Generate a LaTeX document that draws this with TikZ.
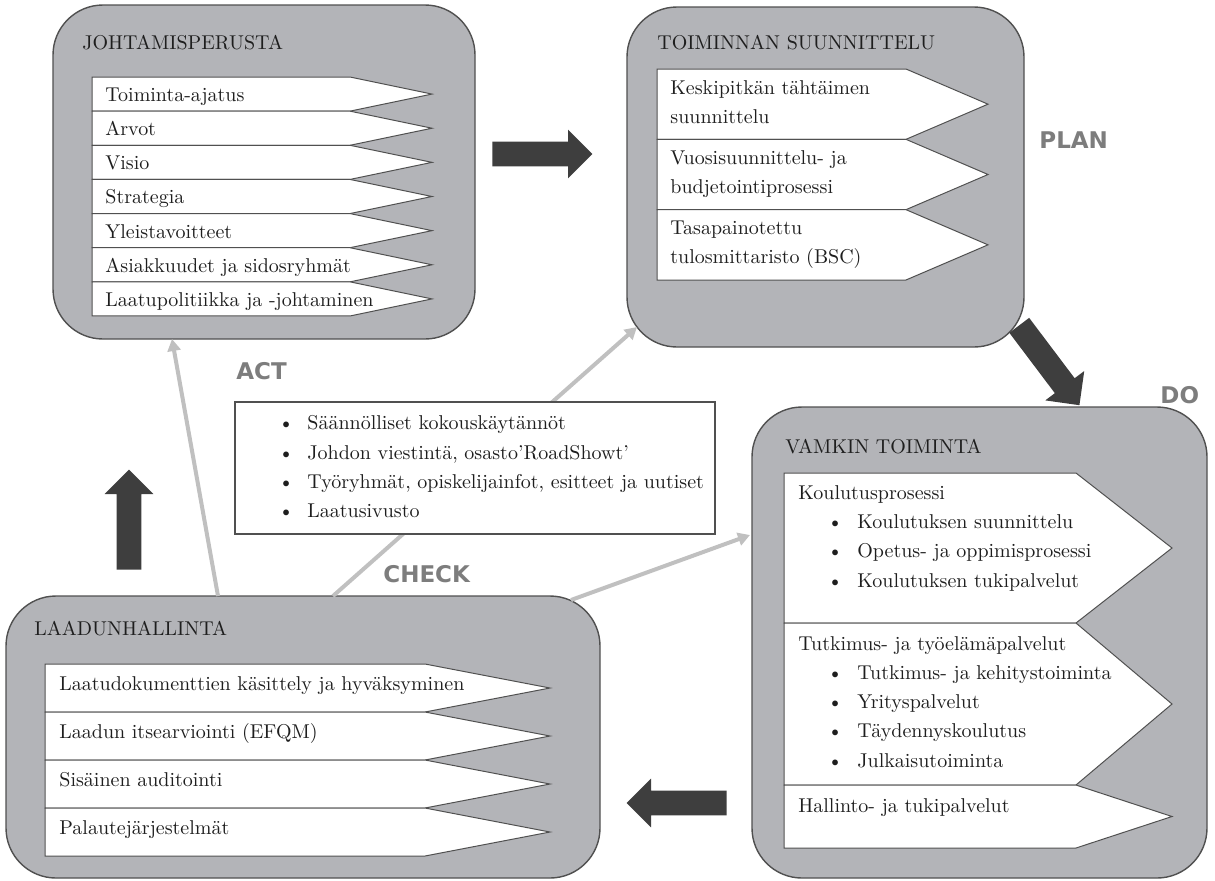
\documentclass[tikz,border=0pt]{standalone}
\usepackage{fontspec}
\newfontfamily\pdcafont{DejaVu Sans}
\usetikzlibrary{fit,calc,shapes.arrows,arrows.meta}

\definecolor{panelgray}{RGB}{179,180,184}
\definecolor{edgegray}{RGB}{80,80,80}
\definecolor{linkgray}{RGB}{192,192,192}
\definecolor{arrowgray}{RGB}{62,62,62}
\definecolor{labelgray}{RGB}{125,125,125}
\definecolor{inkblack}{RGB}{30,30,30}

\tikzset{
  panel/.style={draw=edgegray, line width=0.7pt, fill=panelgray, rounded corners=25pt, inner sep=0pt, outer sep=0pt},
  tabbox/.style={draw=edgegray, line width=0.5pt, fill=white},
  infobox/.style={draw=edgegray, line width=0.6pt, fill=white, inner sep=0pt, outer sep=0pt},
  txt/.style={anchor=base west, inner sep=0pt, text=inkblack, font=\fontsize{10}{12}\selectfont},
  pdca/.style={anchor=base west, inner sep=0pt, text=labelgray, font=\pdcafont\bfseries\fontsize{11.5}{12}\selectfont},
  link/.style={draw=linkgray, line width=2pt, -{Triangle[length=6pt,width=6.5pt]}},
  bigarrow/.style={single arrow, draw=none, fill=arrowgray, anchor=tail, minimum height=50pt, inner xsep=0pt, inner ysep=6pt, single arrow head extend=6pt}
}

\begin{document}
\begin{tikzpicture}[x=0.5pt,y=-0.5pt]
\useasboundingbox (0,0) rectangle (1215,880);
% rounded blocks
\node[panel, fit={(53,5) (475,339)}] (lead) {};
\node[panel, fit={(627,7) (1024,347)}] (plan) {};
\node[panel, fit={(752,407) (1207,878)}] (do) {};
\node[panel, fit={(6,596) (600,878)}] (check) {};
\foreach \n/\x/\y/\t in {leadtitle/82/49/JOHTAMISPERUSTA, plantitle/657/49/TOIMINNAN SUUNNITTELU,
  dotitle/785/453/VAMKIN TOIMINTA, checktitle/34/635/LAADUNHALLINTA}
  \node[txt] (\n) at (\x,\y) {\t};

% JOHTAMISPERUSTA
\foreach \t [count=\i] in {Toiminta-ajatus, Arvot, Visio, Strategia, Yleistavoitteet,
  Asiakkuudet ja sidosryhmät, Laatupolitiikka ja -johtaminen}{
  \pgfmathsetmacro\ry{77+34.14*(\i-1)}
  \draw[tabbox] (92,\ry) -- (350,\ry) -- (432,\ry+17.07) -- (350,\ry+34.14) -- (92,\ry+34.14) -- cycle;
  \node[txt] (lead\i) at (105,\ry+24.5) {\t};
}

% TOIMINNAN SUUNNITTELU
\foreach \a/\b [count=\i] in {Keskipitkän tähtäimen/suunnittelu, Vuosisuunnittelu- ja/budjetointiprosessi,
  Tasapainotettu/tulosmittaristo (BSC)}{
  \pgfmathsetmacro\ry{69+70.33*(\i-1)}
  \draw[tabbox] (657,\ry) -- (906,\ry) -- (988,\ry+35.17) -- (906,\ry+70.33) -- (657,\ry+70.33) -- cycle;
  \node[txt] (plan\i-1) at (670,\ry+25) {\a};
  \node[txt] (plan\i-2) at (670,\ry+54) {\b};
}

% LAADUNHALLINTA
\foreach \t [count=\i] in {Laatudokumenttien käsittely ja hyväksyminen, Laadun itsearviointi (EFQM),
  Sisäinen auditointi, Palautejärjestelmät}{
  \pgfmathsetmacro\ry{664+48*(\i-1)}
  \draw[tabbox] (45,\ry) -- (425,\ry) -- (550,\ry+24) -- (425,\ry+48) -- (45,\ry+48) -- cycle;
  \node[txt] (check\i) at (59,\ry+26) {\t};
}

% VAMKIN TOIMINTA
\foreach \a/\b in {473/623, 623/785, 785/848}
  \draw[tabbox] (784,\a) -- (1076,\a) -- (1172,{(\a+\b)/2}) -- (1076,\b) -- (784,\b) -- cycle;
\foreach \y/\t [count=\i] in {499/Koulutusprosessi, 650/Tutkimus- ja työelämäpalvelut, 812/Hallinto- ja tukipalvelut}
  \node[txt] (dohead\i) at (798,\y) {\t};
\foreach \y/\t [count=\i] in {528/Koulutuksen suunnittelu, 557/Opetus- ja oppimisprosessi,
  587/Koulutuksen tukipalvelut, 679/Tutkimus- ja kehitystoiminta, 708/Yrityspalvelut,
  737/Täydennyskoulutus, 767/Julkaisutoiminta}{
  \node[txt] (dobullet\i) at (827,\y) {\textbullet};
  \node[txt] (doitem\i) at (857,\y) {\t};
}

% PDCA
\node[pdca] (plantag) at (1039,148) {PLAN};
\node[pdca] (dotag) at (1160,403) {DO};
\node[pdca] (checktag) at (383,582) {CHECK};
\node[pdca] (acttag) at (236,379) {ACT};

% gray links
\draw[link] ($(check.north west)+(212,0)$) -- ($(lead.south west)+(119,0)$);
\draw[link] ($(check.north west)+(327,0)$) -- ($(plan.south west)+(10,-20)$);
\draw[link] ($(check.north east)+(-29,4)$) -- ($(do.north west)+(-2,128)$);

% communication box
\node[infobox, fit={(235,402) (715,534)}] (comm) {};
\foreach \y/\t [count=\i] in {429/Säännölliset kokouskäytännöt, {459/Johdon viestintä, osasto’RoadShowt’},
  {488/Työryhmät, opiskelijainfot, esitteet ja uutiset}, 517/Laatusivusto}{
  \node[txt] (commbullet\i) at (278,\y) {\textbullet};
  \node[txt] (comm\i) at (307,\y) {\t};
}

% big arrows
\node[bigarrow] (toplan) at (492,154) {};
\node[bigarrow, rotate=-53] (todo) at (1019,325) {};
\node[bigarrow, rotate=180] (tocheck) at (727,803) {};
\node[bigarrow, rotate=90] (tolead) at (129,570) {};
\end{tikzpicture}
\end{document}
